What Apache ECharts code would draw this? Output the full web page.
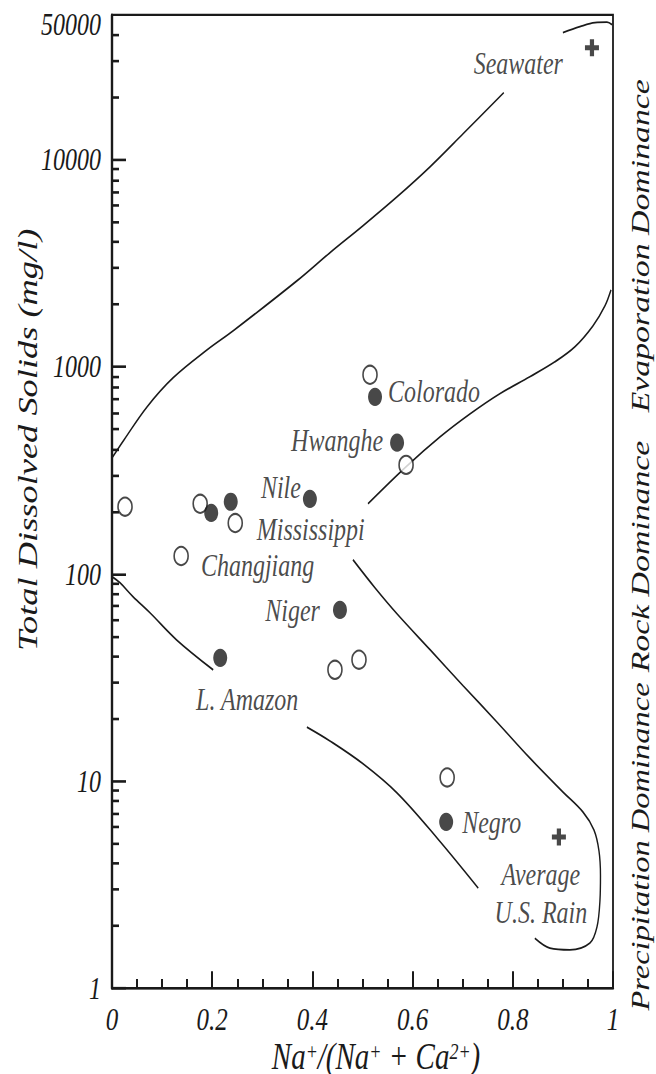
<!DOCTYPE html>
<html>
<head>
<meta charset="utf-8">
<title>Gibbs diagram</title>
<script src="https://cdn.jsdelivr.net/npm/echarts@6/dist/echarts.min.js"></script>
<style>
  html, body { margin: 0; padding: 0; background: #fff; width: 656px; height: 1074px; }
  #frame { position: relative; width: 656px; height: 1074px; overflow: hidden; }
  /* the figure is laid out on an 826px-high box and stretched to the full 1074px */
  #chart { position: absolute; left: 0; top: 0; width: 656px; height: 826px;
           transform: scaleY(1.30024); transform-origin: 0 0; }
</style>
</head>
<body>
<div id="frame"><div id="chart"></div></div>
<script>
// ---- axis ticks ----
const xLabelStep = 0.2;
const yLabelValues = [1, 10, 100, 1000, 10000, 50000];
const yMajorTicks = [1, 10, 100, 1000, 10000];
const yMinorTicks = [2, 3, 4, 5, 6, 7, 8, 9,
  20, 30, 40, 50, 60, 70, 80, 90,
  200, 300, 400, 500, 600, 700, 800, 900,
  2000, 3000, 4000, 5000, 6000, 7000, 8000, 9000,
  20000, 30000, 40000];

// ---- rivers: filled circles ----
const solidNames = ['', 'Mississippi', 'Nile', 'Colorado', 'Hwanghe', 'Niger', 'L. Amazon', 'Negro'];
const solidRatio = [0.198, 0.237, 0.395, 0.525, 0.569, 0.455, 0.216, 0.667];
const solidTDS = [197, 223, 230, 716, 430, 67, 39.3, 6.34];

// ---- rivers: open circles ----
const hollowNames = ['', '', '', 'Changjiang', '', '', '', '', ''];
const hollowRatio = [0.026, 0.176, 0.246, 0.138, 0.515, 0.587, 0.445, 0.493, 0.669];
const hollowTDS = [211, 218, 176, 122, 915, 336, 34.4, 38.5, 10.4];

// ---- end members ----
const endNames = ['Seawater', 'Average\nU.S. Rain'];
const endRatio = [0.958, 0.892];
const endTDS = [34700, 5.36];

// ---- field boundaries ----
const upperBoundary = [[0, 363], [0.024, 444], [0.07, 641], [0.122, 885], [0.19, 1208], [0.242, 1493],
  [0.369, 2600], [0.435, 3556], [0.501, 4800], [0.569, 6620], [0.635, 9250], [0.701, 13360], [0.782, 21080]];
const seawaterCap = [[0.9, 41100], [0.934, 43900], [0.964, 45900], [0.988, 46150], [0.998, 44900]];
const evaporationRock = [[0.511, 218], [0.587, 329], [0.655, 459], [0.715, 593], [0.774, 741],
  [0.834, 895], [0.884, 1057], [0.924, 1250], [0.96, 1578], [0.984, 1972], [0.996, 2354]];
const rockPrecipitation = [[0.481, 117], [0.525, 85.6], [0.569, 64.1], [0.635, 43], [0.701, 28.8],
  [0.768, 19.3], [0.834, 12.9], [0.9, 8.85], [0.94, 7.08], [0.962, 5.8], [0.972, 4.6], [0.975, 3.5],
  [0.974, 2.66], [0.968, 1.97], [0.954, 1.65], [0.914, 1.53], [0.874, 1.56], [0.844, 1.74]];
const lowerLeftBoundary = [[0, 97], [0.016, 90.5], [0.042, 77.6], [0.076, 64.8], [0.129, 48], [0.202, 34.4]];
const lowerRightBoundary = [[0.389, 18.2], [0.435, 15.6], [0.501, 12.1], [0.569, 8.75], [0.649, 5.3], [0.731, 3.04]];

// ---- styling ----
const INK = '#1a1a1a';
const SERIF = '"Liberation Serif", "DejaVu Serif", serif';
const textBase = { fontFamily: SERIF, fontStyle: 'italic', color: INK };

const labelPlacement = {
  'Colorado':    { position: 'right',  offset: [1, -4] },
  'Hwanghe':     { position: 'left',   offset: [-2, -2] },
  'Nile':        { position: 'left',   offset: [3, -9] },
  'Mississippi': { position: 'right',  offset: [14, 21] },
  'Changjiang':  { position: 'right',  offset: [7, 7] },
  'Niger':       { position: 'left',   offset: [-8, 0] },
  'L. Amazon':   { position: 'bottom', offset: [27, 8] },
  'Negro':       { position: 'right',  offset: [4, 0] },
  'Seawater':    { position: 'left',   offset: [-17, 12] },
  'Average\nU.S. Rain': { position: 'bottom', offset: [-18, 3], lineHeight: 29, align: 'center' }
};

function pointData(names, xs, ys) {
  return xs.map((x, i) => {
    const item = { name: names[i], value: [x, ys[i]] };
    const place = labelPlacement[names[i]];
    if (place) {
      item.label = Object.assign({
        show: true, formatter: '{b}', fontSize: 24
      }, textBase, place);
    }
    return item;
  });
}

function boundary(data) {
  return {
    type: 'line', data: data, smooth: 0.35, symbol: 'none', silent: true,
    lineStyle: { color: INK, width: 1.4 }, z: 2
  };
}

const plusPath = 'path://M3.5,0h3v3.5h3.5v3h-3.5v3.5h-3v-3.5h-3.5v-3h3.5z';

const chart = echarts.init(document.getElementById('chart'), null, { renderer: 'svg' });

chart.setOption({
  animation: false,
  backgroundColor: '#fff',
  grid: {
    left: 112, right: 43, top: 11.5, bottom: 66.1,
    show: true, borderColor: INK, borderWidth: 1.8,
    containLabel: false, outerBoundsMode: 'none'
  },
  xAxis: {
    type: 'value', min: 0, max: 1, interval: xLabelStep,
    name: '{n|Na}{s|+}{n|/(Na}{s|+}{n| + Ca}{s|2+}{n|)}',
    nameLocation: 'middle', nameGap: 39.5, nameMoveOverlap: false,
    nameTextStyle: {
      padding: [0, 0, 0, 27],
      rich: {
        n: Object.assign({ fontSize: 29, lineHeight: 25 }, textBase),
        s: Object.assign({ fontSize: 18, lineHeight: 15, verticalAlign: 'top' }, textBase)
      }
    },
    axisLine: { lineStyle: { color: INK, width: 2 } },
    axisTick: { inside: true, length: 13, lineStyle: { color: INK, width: 2 } },
    minorTick: { show: true, splitNumber: 4, length: 7, lineStyle: { color: INK, width: 2 } },
    axisLabel: Object.assign({ fontSize: 25, lineHeight: 20, margin: 14 }, textBase),
    splitLine: { show: false }
  },
  yAxis: [{
    type: 'log', logBase: 10, min: 1, max: 50000, position: 'left',
    name: 'Total Dissolved Solids (mg/l)',
    nameLocation: 'middle', nameRotate: 90, nameGap: 70, nameMoveOverlap: false,
    nameTextStyle: Object.assign({ fontSize: 28, padding: [0, 0, 0, 95] }, textBase),
    axisLine: { lineStyle: { color: INK, width: 2.4 } },
    axisTick: { inside: true, length: 14, customValues: yMajorTicks, lineStyle: { color: INK, width: 2 } },
    axisLabel: Object.assign({
      fontSize: 24, lineHeight: 14, margin: 11, customValues: yLabelValues,
      verticalAlignMaxLabel: 'top',
      formatter: v => String(Math.round(v))
    }, textBase),
    splitLine: { show: false }
  }, {
    // second copy of the scale carrying the short ticks between decades
    type: 'log', logBase: 10, min: 1, max: 50000, position: 'left',
    axisLine: { show: false },
    axisTick: { inside: true, length: 7, customValues: yMinorTicks, lineStyle: { color: INK, width: 2 } },
    axisLabel: { show: false },
    splitLine: { show: false }
  }],
  graphic: [
    { type: 'text', x: 640, y: 651, rotation: Math.PI / 2,
      style: { text: 'Precipitation Dominance', font: 'italic 25px ' + SERIF, fill: INK, align: 'center', verticalAlign: 'middle' } },
    { type: 'text', x: 640, y: 428, rotation: Math.PI / 2,
      style: { text: 'Rock Dominance', font: 'italic 26px ' + SERIF, fill: INK, align: 'center', verticalAlign: 'middle' } },
    { type: 'text', x: 640, y: 189, rotation: Math.PI / 2,
      style: { text: 'Evaporation Dominance', font: 'italic 26px ' + SERIF, fill: INK, align: 'center', verticalAlign: 'middle' } }
  ],
  series: [
    boundary(upperBoundary),
    boundary(seawaterCap),
    boundary(evaporationRock),
    boundary(rockPrecipitation),
    boundary(lowerLeftBoundary),
    boundary(lowerRightBoundary),
    {
      type: 'scatter', name: 'open', symbol: 'circle', symbolSize: 14, z: 5,
      itemStyle: { color: '#fff', borderColor: INK, borderWidth: 1.6 },
      data: pointData(hollowNames, hollowRatio, hollowTDS)
    },
    {
      type: 'scatter', name: 'filled', symbol: 'circle', symbolSize: 14, z: 5,
      itemStyle: { color: INK },
      data: pointData(solidNames, solidRatio, solidTDS)
    },
    {
      type: 'scatter', name: 'end members', symbol: plusPath, symbolSize: [14, 13], z: 5,
      itemStyle: { color: INK },
      data: pointData(endNames, endRatio, endTDS)
    }
  ]
});
</script>
</body>
</html>
